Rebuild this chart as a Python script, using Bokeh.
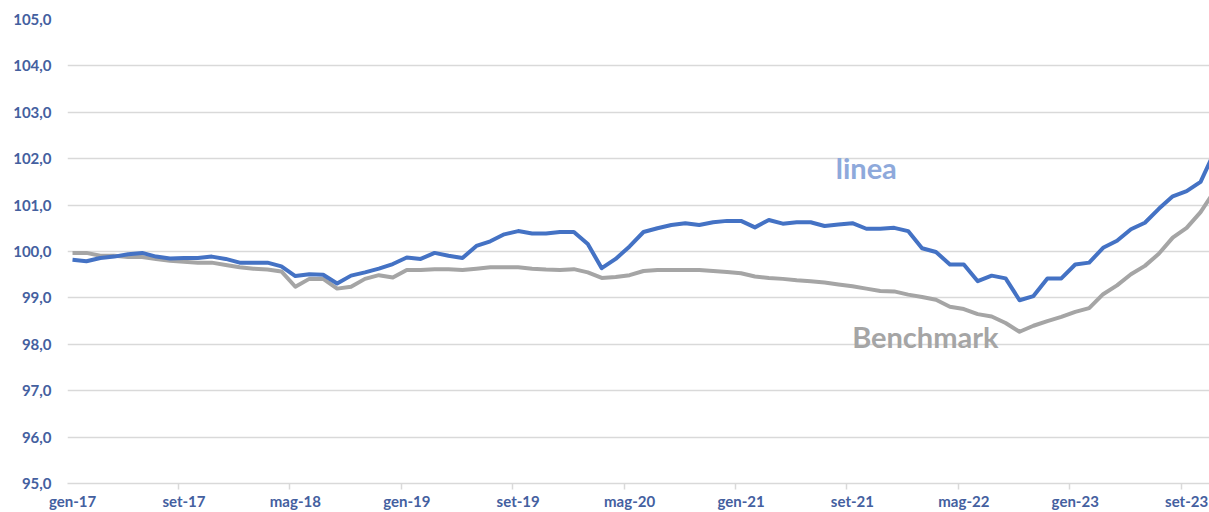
from bokeh.plotting import figure
from bokeh.models import FixedTicker, Range1d, Label
from bokeh.embed import file_html
from bokeh.resources import INLINE

# ---- data ----
mesi = ["gen", "feb", "mar", "apr", "mag", "giu", "lug", "ago", "set", "ott", "nov", "dic"]
periodi = [f"{mesi[i % 12]}-{17 + i // 12}" for i in range(83)]  # gen-17 ... nov-23

linea = [
    99.82, 99.79, 99.86, 99.89, 99.94, 99.97, 99.89, 99.85, 99.86, 99.86, 99.89, 99.84,
    99.76, 99.76, 99.76, 99.68, 99.47, 99.51, 99.50, 99.31, 99.48, 99.55, 99.63, 99.73,
    99.87, 99.84, 99.97, 99.91, 99.86, 100.12, 100.22, 100.37, 100.44, 100.39, 100.39, 100.42,
    100.42, 100.16, 99.64, 99.84, 100.11, 100.42, 100.50, 100.57, 100.61, 100.57, 100.63, 100.66,
    100.66, 100.52, 100.68, 100.60, 100.63, 100.63, 100.55, 100.58, 100.61, 100.49, 100.49, 100.51,
    100.44, 100.07, 99.99, 99.72, 99.72, 99.36, 99.48, 99.42, 98.95, 99.04, 99.42, 99.42,
    99.72, 99.76, 100.08, 100.23, 100.48, 100.62, 100.92, 101.19, 101.30, 101.50, 102.15,
]

benchmark = [
    99.97, 99.97, 99.91, 99.91, 99.88, 99.88, 99.84, 99.80, 99.78, 99.76, 99.76, 99.71,
    99.66, 99.63, 99.61, 99.57, 99.24, 99.41, 99.41, 99.20, 99.24, 99.41, 99.49, 99.44,
    99.60, 99.60, 99.62, 99.62, 99.60, 99.63, 99.66, 99.66, 99.66, 99.63, 99.61, 99.60,
    99.62, 99.55, 99.43, 99.45, 99.49, 99.58, 99.60, 99.60, 99.60, 99.60, 99.58, 99.56,
    99.53, 99.46, 99.43, 99.41, 99.38, 99.36, 99.33, 99.29, 99.25, 99.20, 99.15, 99.14,
    99.07, 99.02, 98.96, 98.81, 98.76, 98.65, 98.60, 98.46, 98.27, 98.40, 98.50, 98.59,
    98.70, 98.78, 99.08, 99.27, 99.51, 99.69, 99.95, 100.30, 100.51, 100.85, 101.30,
]

x_tick_labels = ["gen-17", "set-17", "mag-18", "gen-19", "set-19", "mag-20",
                 "gen-21", "set-21", "mag-22", "gen-23", "set-23"]
y_ticks = [95, 96, 97, 98, 99, 100, 101, 102, 103, 104, 105]
y_tick_labels = ["95,0", "96,0", "97,0", "98,0", "99,0", "100,0",
                 "101,0", "102,0", "103,0", "104,0", "105,0"]

# ---- figure ----
x = list(range(len(periodi)))
tick_pos = [periodi.index(t) for t in x_tick_labels]

FONT = "Lato"
TICK_COLOR = "#44609F"
GRID = "#D9D9D9"

p = figure(width=1209, height=512, output_backend="svg", toolbar_location=None,
           x_range=Range1d(-0.36, 81.64), y_range=Range1d(95, 105),
           min_border_left=67, min_border_right=0, min_border_top=19, min_border_bottom=29)
p.outline_line_color = None
p.background_fill_color = "white"
p.border_fill_color = "white"

p.line(x, benchmark, line_width=4, color="#A5A5A5", line_join="round")
p.line(x, linea, line_width=4, color="#4472C4", line_join="round")

# x axis
p.xaxis.ticker = FixedTicker(ticks=tick_pos, minor_ticks=[t - 0.39 for t in tick_pos])
p.xaxis.major_label_overrides = {t: lab for t, lab in zip(tick_pos, x_tick_labels)}
p.xaxis.major_tick_out = 0
p.xaxis.major_tick_in = 0
p.xaxis.minor_tick_out = 6
p.xaxis.minor_tick_in = 0
p.xaxis.minor_tick_line_color = GRID
p.xaxis.minor_tick_line_width = 1.5
p.xaxis.axis_line_color = GRID
p.xaxis.axis_line_width = 1.5
p.xaxis.major_label_standoff = 2
p.xaxis.major_label_text_font = FONT
p.xaxis.major_label_text_font_size = "15px"
p.xaxis.major_label_text_font_style = "bold"
p.xaxis.major_label_text_color = TICK_COLOR

# y axis
p.yaxis.ticker = FixedTicker(ticks=y_ticks)
p.yaxis.major_label_overrides = {t: lab for t, lab in zip(y_ticks, y_tick_labels)}
p.yaxis.major_tick_out = 0
p.yaxis.major_tick_in = 0
p.yaxis.minor_tick_out = 0
p.yaxis.minor_tick_in = 0
p.yaxis.axis_line_color = None
p.yaxis.major_label_standoff = 16
p.yaxis.major_label_text_font = FONT
p.yaxis.major_label_text_font_size = "15px"
p.yaxis.major_label_text_font_style = "bold"
p.yaxis.major_label_text_color = TICK_COLOR

p.xgrid.visible = False
p.ygrid.grid_line_color = GRID
p.ygrid.grid_line_width = 1.5

# series labels
p.add_layout(Label(x=54.8, y=101.82, text="linea", text_font=FONT, text_font_size="29px",
                   text_font_style="bold", text_color="#8EA9DB", text_baseline="alphabetic"))
p.add_layout(Label(x=55.98, y=98.17, text="Benchmark", text_font=FONT, text_font_size="29px",
                   text_font_style="bold", text_color="#A5A5A5", text_baseline="alphabetic"))

open("out.html", "w").write(file_html(p, INLINE))
